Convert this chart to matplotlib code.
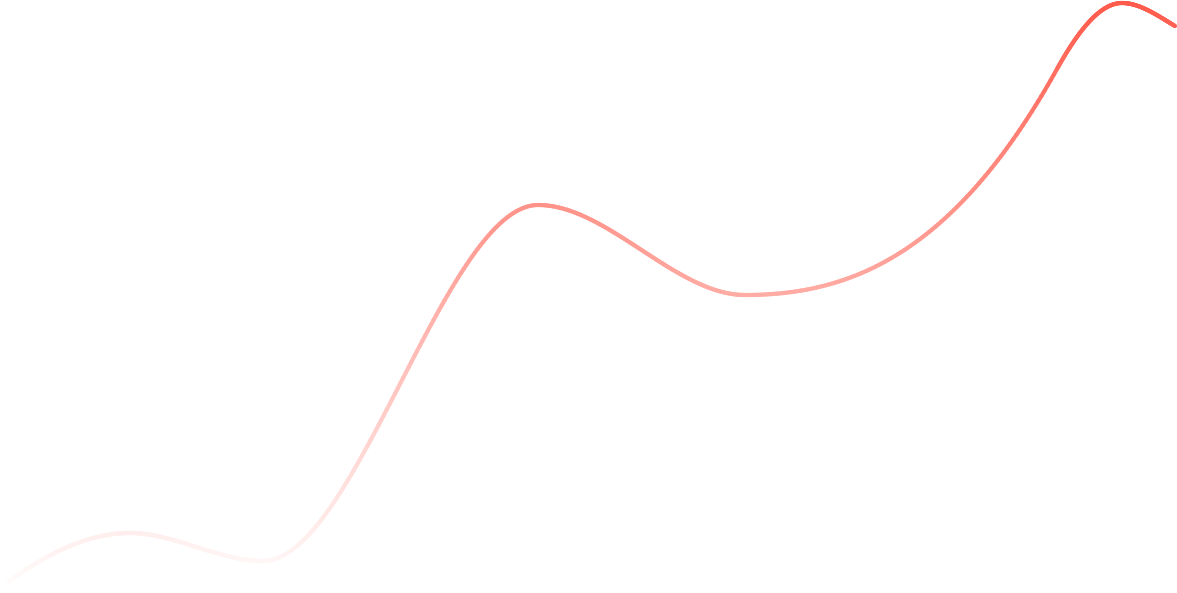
import numpy as np
import matplotlib
matplotlib.use("Agg")
import matplotlib.pyplot as plt
from matplotlib.collections import LineCollection

# Anchor points of the curve (x position, value) and the slope at each one
x_vals = [8, 130, 263, 538, 745, 1057, 1122, 1175]
y_vals = [11, 60, 32, 388, 298, 524, 590, 567]
slopes = [0.73, 0.0, 0.0, 0.0, 0.0, 1.8, 0.0, -0.6]

LINE_COLOR = np.array([1.0, 0.353, 0.294])   # ~#FF5A4B
Y_MAX = 593


def hermite(xs, ys, ms, n=100):
    """Cubic Hermite path through the anchors with the given slopes."""
    x = np.asarray(xs, float)
    y = np.asarray(ys, float)
    m = np.asarray(ms, float)
    px, py = [], []
    for k in range(len(x) - 1):
        h = x[k + 1] - x[k]
        t = np.linspace(0, 1, n, endpoint=False)
        h00 = 2 * t**3 - 3 * t**2 + 1
        h10 = t**3 - 2 * t**2 + t
        h01 = -2 * t**3 + 3 * t**2
        h11 = t**3 - t**2
        px.append(x[k] + t * h)
        py.append(h00 * y[k] + h10 * h * m[k] + h01 * y[k + 1] + h11 * h * m[k + 1])
    px.append([x[-1]])
    py.append([y[-1]])
    return np.concatenate(px), np.concatenate(py)


cx, cy = hermite(x_vals, y_vals, slopes)
pts = np.column_stack([cx, cy])
segs = np.stack([pts[:-1], pts[1:]], axis=1)

# vertical fade: transparent at the bottom, full colour at the top
mid_y = (cy[:-1] + cy[1:]) / 2
alpha = np.clip(mid_y / Y_MAX, 0, 1)
colors = [tuple(1 - a * (1 - LINE_COLOR)) for a in alpha]

fig = plt.figure(figsize=(11.77, 5.93), dpi=100)
ax = fig.add_axes([0, 0, 1, 1])
lc = LineCollection(segs, colors=colors, linewidths=3.0, capstyle="round")
ax.add_collection(lc)
ax.set_xlim(0, 1177)
ax.set_ylim(0, Y_MAX)
ax.axis("off")

fig.savefig("out.png", dpi=100, facecolor="white")
